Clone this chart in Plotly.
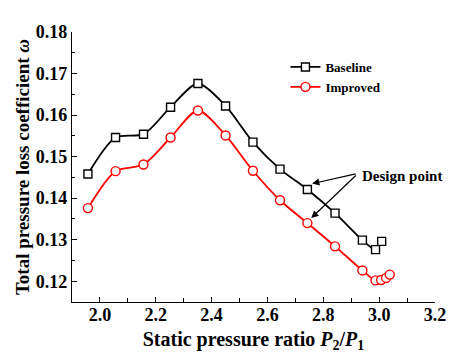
import plotly.graph_objects as go

pressure_ratio_base = [1.957, 2.056, 2.156, 2.253, 2.351, 2.450, 2.548, 2.645, 2.743, 2.842, 2.940, 2.987, 3.009]
loss_base = [0.1458, 0.1546, 0.1554, 0.1619, 0.1676, 0.1622, 0.1535, 0.1470, 0.1421, 0.1364, 0.1299, 0.1276, 0.1296]

pressure_ratio_imp = [1.957, 2.056, 2.156, 2.253, 2.351, 2.450, 2.548, 2.645, 2.743, 2.842, 2.940, 2.987, 3.007, 3.025, 3.038]
loss_imp = [0.1376, 0.1465, 0.1481, 0.1546, 0.1611, 0.1551, 0.1466, 0.1395, 0.1340, 0.1284, 0.1226, 0.1202, 0.1203, 0.1208, 0.1216]

series_names = ["Baseline", "Improved"]
x_tick_vals = [2.0, 2.2, 2.4, 2.6, 2.8, 3.0, 3.2]
y_tick_vals = [0.12, 0.13, 0.14, 0.15, 0.16, 0.17, 0.18]

FONT = "Liberation Serif"

fig = go.Figure()
fig.add_trace(go.Scatter(
    x=pressure_ratio_base, y=loss_base, name=series_names[0],
    mode="lines+markers", line=dict(color="black", width=1.8, shape="spline", smoothing=0.8),
    marker=dict(symbol="square", size=8, color="white", line=dict(color="black", width=1.4)),
))
fig.add_trace(go.Scatter(
    x=pressure_ratio_imp, y=loss_imp, name=series_names[1],
    mode="lines+markers", line=dict(color="#ff0000", width=1.8, shape="spline", smoothing=0.8),
    marker=dict(symbol="circle", size=9, color="white", line=dict(color="#ff0000", width=1.4)),
))

# design point arrows (pointing at the 9th point of each series)
fig.add_annotation(x=pressure_ratio_base[8] + 0.017, y=loss_base[8] + 0.0014,
                   text="", showarrow=True, ax=45, ay=-10,
                   arrowhead=2, arrowsize=1.2, arrowwidth=1.2, arrowcolor="black")
fig.add_annotation(x=pressure_ratio_imp[8] + 0.014, y=loss_imp[8] + 0.0012,
                   text="", showarrow=True, ax=46, ay=-44,
                   arrowhead=2, arrowsize=1.2, arrowwidth=1.2, arrowcolor="black")
fig.add_annotation(x=2.93, y=0.1453, xanchor="left", yanchor="middle", text="<b>Design point</b>",
                   showarrow=False, font=dict(family=FONT, size=15, color="black"))

axis_common = dict(
    showline=True, linecolor="black", linewidth=1.2, mirror=False,
    ticks="inside", ticklen=5, tickwidth=1.2, tickcolor="black",
    showgrid=False, zeroline=False,
    tickfont=dict(family=FONT, size=18, color="black", weight="bold"),
)

fig.update_xaxes(
    range=[1.9, 3.2], tickvals=x_tick_vals, ticktext=[f"{v:.1f}" for v in x_tick_vals],
    minor=dict(dtick=0.1, tick0=1.9, ticks="inside", ticklen=4, tickcolor="black", tickwidth=1),
    ticklabelstandoff=-4,
    title=dict(text="<b>Static pressure ratio <i>P</i><sub>2</sub>/<i>P</i><sub>1</sub></b>",
               font=dict(family=FONT, size=20, color="black"), standoff=8),
    **axis_common,
)
fig.update_yaxes(
    range=[0.115, 0.18], tickvals=y_tick_vals, ticktext=[f"{v:.2f}" for v in y_tick_vals],
    minor=dict(dtick=0.005, tick0=0.115, ticks="inside", ticklen=3, tickcolor="black", tickwidth=1),
    title=dict(text="<b>Total pressure loss coefficient <i>ω</i></b>",
               font=dict(family=FONT, size=19, color="black"), standoff=1),
    **axis_common,
)

fig.update_layout(
    width=450, height=351,
    margin=dict(l=64, r=16, t=24, b=57),
    paper_bgcolor="white", plot_bgcolor="white",
    showlegend=True,
    legend=dict(x=0.588, y=0.926, xanchor="left", yanchor="top",
                font=dict(family=FONT, size=13, color="black", weight="bold"),
                bgcolor="rgba(0,0,0,0)", tracegroupgap=0, itemwidth=30),
)

fig.write_html("out.html")
